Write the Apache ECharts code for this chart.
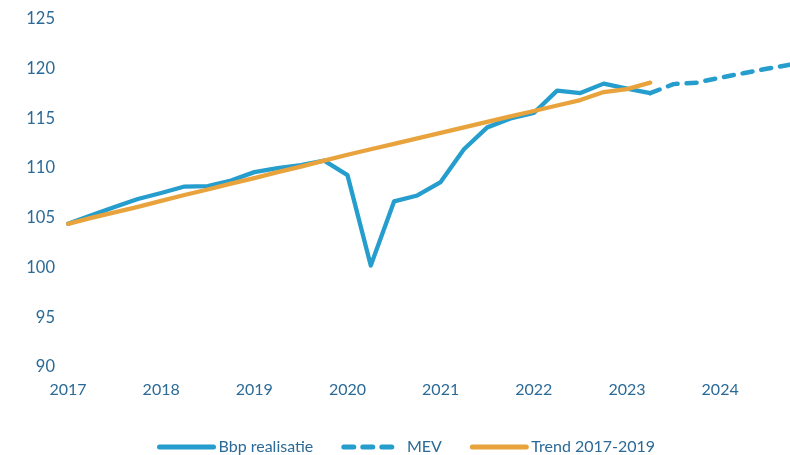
<!DOCTYPE html>
<html>
<head>
<meta charset="utf-8">
<script src="https://cdn.jsdelivr.net/npm/echarts@6/dist/echarts.min.js"></script>
<style>
html,body{margin:0;padding:0;background:#fff;}
#c{width:790px;height:455px;}
</style>
</head>
<body>
<div id="c"></div>
<script>
var quarters = [];
var years = [2017, 2018, 2019, 2020, 2021, 2022, 2023, 2024];
years.forEach(function (y) { for (var q = 1; q <= 4; q++) quarters.push(y + 'K' + q); });

var bbpRealisatie = [104.4, 105.25, 106.1, 106.9, 107.5, 108.15, 108.2, 108.75,
  109.6, 110.0, 110.3, 110.75, 109.3, 100.2, 106.65, 107.25,
  108.6, 111.9, 114.1, 115.0, 115.55, 117.8, 117.55, 118.5,
  118.0, 117.55, null, null, null, null, null, null];

var mev = [null, null, null, null, null, null, null, null,
  null, null, null, null, null, null, null, null,
  null, null, null, null, null, null, null, null,
  null, 117.55, 118.45, 118.6, 119.1, 119.55, 120.0, 120.4];

var trend = [104.4, 105.0, 105.55, 106.1, 106.7, 107.3, 107.85, 108.45,
  109.0, 109.6, 110.15, 110.75, 111.35, 111.9, 112.45, 113.0,
  113.55, 114.1, 114.65, 115.2, 115.75, 116.3, 116.85, 117.65,
  117.95, 118.6, null, null, null, null, null, null];

var yMin = 90, yMax = 125, yStep = 5;

var textColor = '#2B6A96';
var blue = '#259DCD';
var orange = '#E8A33D';
var font = 'Lato, "Noto Sans", sans-serif';

var chart = echarts.init(document.getElementById('c'));
chart.setOption({
  animation: false,
  backgroundColor: '#fff',
  grid: { left: 68, top: 19, width: 725.4, height: 348, containLabel: false },
  xAxis: {
    type: 'category',
    data: quarters,
    boundaryGap: false,
    axisLine: { show: false },
    axisTick: { show: false },
    splitLine: { show: false },
    axisLabel: {
      interval: 3,
      margin: 15,
      color: textColor,
      fontFamily: font,
      fontSize: 16,
      formatter: function (v) { return v.slice(0, 4); }
    }
  },
  yAxis: {
    type: 'value',
    min: yMin, max: yMax, interval: yStep,
    axisLine: { show: false },
    axisTick: { show: false },
    splitLine: { show: false },
    axisLabel: { margin: 13, color: textColor, fontFamily: font, fontSize: 16.5 }
  },
  legend: {
    left: 157,
    top: 439,
    padding: 0,
    itemWidth: 54,
    itemHeight: 12,
    itemGap: 28,
    itemStyle: { opacity: 0 },
    lineStyle: { width: 5, cap: 'round' },
    textStyle: { color: textColor, fontFamily: font, fontSize: 16 },
    formatter: function (n) { return n === 'MEV' ? ' MEV' : n; },
    data: ['Bbp realisatie', 'MEV', 'Trend 2017-2019']
  },
  series: [
    {
      name: 'Bbp realisatie', type: 'line', data: bbpRealisatie,
      symbol: 'none', z: 3,
      lineStyle: { color: blue, width: 4.3, cap: 'round', join: 'round' },
      itemStyle: { color: blue }
    },
    {
      name: 'MEV', type: 'line', data: mev,
      symbol: 'none', z: 3,
      lineStyle: { color: blue, width: 4.5, type: [10, 9], cap: 'round', join: 'round' },
      itemStyle: { color: blue }
    },
    {
      name: 'Trend 2017-2019', type: 'line', data: trend,
      symbol: 'none', z: 4,
      lineStyle: { color: orange, width: 4.3, cap: 'round', join: 'round' },
      itemStyle: { color: orange }
    }
  ]
});
</script>
</body>
</html>
